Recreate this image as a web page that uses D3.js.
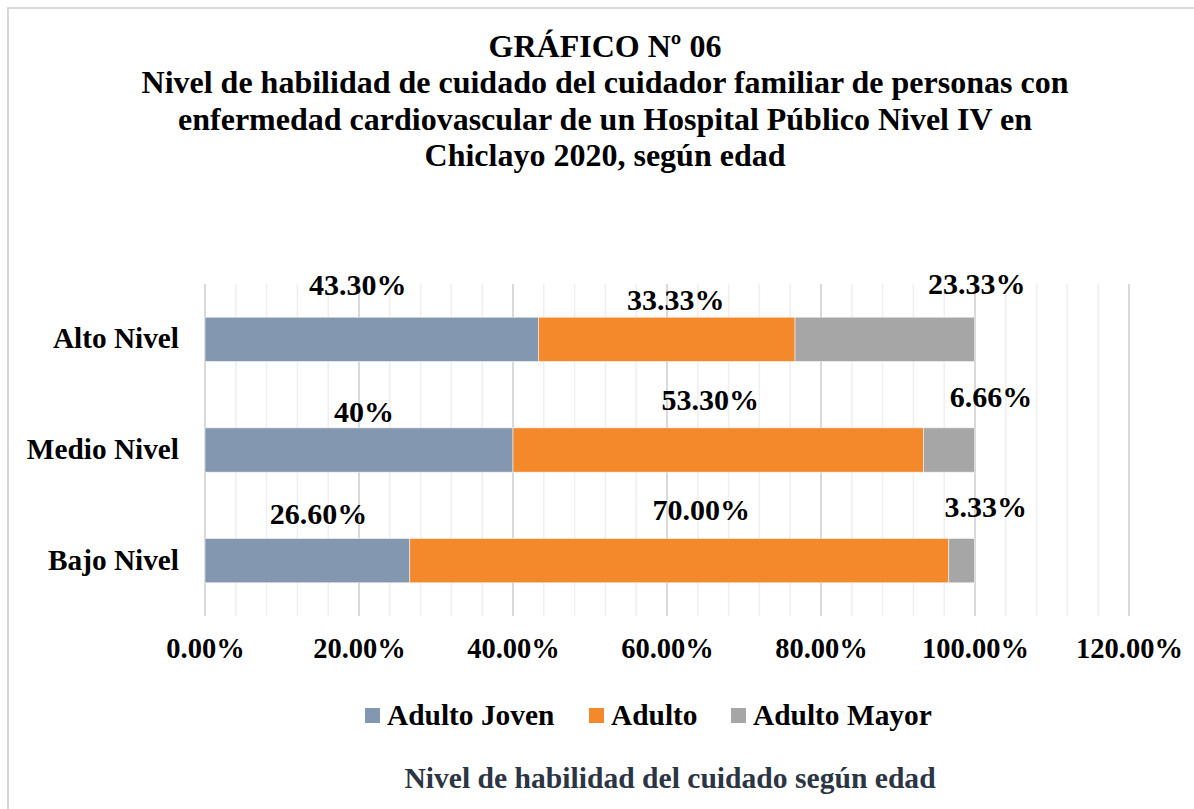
<!DOCTYPE html>
<html>
<head>
<meta charset="utf-8">
<script src="https://cdn.jsdelivr.net/npm/d3@7"></script>
<style>
  html, body { margin: 0; padding: 0; background: #fff; }
  text { font-family: "Liberation Serif", "Times New Roman", serif; font-weight: bold; }
</style>
</head>
<body>
<svg id="chart" width="1194" height="809"></svg>
<script>
// chart data
const categories = ["Alto Nivel", "Medio Nivel", "Bajo Nivel"];
const seriesNames = ["Adulto Joven", "Adulto", "Adulto Mayor"];
const adultoJoven = [43.30, 40, 26.60];
const adulto = [33.33, 53.30, 70.00];
const adultoMayor = [23.33, 6.66, 3.33];
const valueLabels = [
  ["43.30%", "33.33%", "23.33%"],
  ["40%", "53.30%", "6.66%"],
  ["26.60%", "70.00%", "3.33%"]
];
const xTicks = [0, 0.2, 0.4, 0.6, 0.8, 1.0, 1.2];
const titleLines = [
  "GRÁFICO Nº 06",
  "Nivel de habilidad de cuidado del cuidador familiar de personas con",
  "enfermedad cardiovascular de un Hospital Público Nivel IV en",
  "Chiclayo 2020, según edad"
];
const axisTitle = "Nivel de habilidad del cuidado según edad";

// manual label offsets (px) from segment centre / bar top, as placed in the original
const labelNudge = [
  [[-14, -22], [9, -7], [92, -23]],
  [[5, -6], [-8, -18], [42, -21]],
  [[11, -15], [22, -19], [24, -22]]
];

const colors = ["#8497b0", "#f4892c", "#a6a6a6"];

const svg = d3.select("#chart");

// outer frame (right/bottom edges fall outside the picture)
svg.append("rect")
  .attr("x", 8).attr("y", 8)
  .attr("width", 1200).attr("height", 820)
  .attr("fill", "#fff")
  .attr("stroke", "#d9d9d9")
  .attr("stroke-width", 2);

// title
svg.append("g")
  .selectAll("text")
  .data(titleLines)
  .join("text")
  .attr("x", 605)
  .attr("y", (d, i) => 57 + i * 36.3)
  .attr("text-anchor", "middle")
  .attr("font-size", 32)
  .attr("fill", "#000")
  .text(d => d);

const plotTop = 284, plotBottom = 616;

const x = d3.scaleLinear().domain([0, 1.2]).range([205, 1129]);
const y = d3.scaleBand()
  .domain(categories)
  .range([plotTop, plotBottom])
  .paddingInner(0.6)
  .paddingOuter(0.3);

// gridlines: minor every 4%, major every 20%
const minor = d3.range(0, 1.2001, 0.04);
svg.append("g")
  .selectAll("line")
  .data(minor)
  .join("line")
  .attr("x1", d => x(d)).attr("x2", d => x(d))
  .attr("y1", plotTop).attr("y2", plotBottom)
  .attr("stroke", "#efefef")
  .attr("stroke-width", 1.5);

svg.append("g")
  .selectAll("line")
  .data(xTicks)
  .join("line")
  .attr("x1", d => x(d)).attr("x2", d => x(d))
  .attr("y1", plotTop).attr("y2", plotBottom)
  .attr("stroke", "#d9d9d9")
  .attr("stroke-width", 2);

// stacked data
const rows = categories.map((c, i) => ({
  cat: c,
  "Adulto Joven": adultoJoven[i] / 100,
  "Adulto": adulto[i] / 100,
  "Adulto Mayor": adultoMayor[i] / 100
}));
const stacked = d3.stack().keys(seriesNames)(rows);

const layers = svg.append("g")
  .selectAll("g")
  .data(stacked)
  .join("g")
  .attr("fill", (d, i) => colors[i]);

layers.selectAll("rect")
  .data(d => d)
  .join("rect")
  .attr("x", d => x(d[0]))
  .attr("y", d => y(d.data.cat))
  .attr("width", d => x(d[1]) - x(d[0]))
  .attr("height", y.bandwidth())
  .attr("stroke", "#f3f3f3")
  .attr("stroke-width", 0.6);

// value labels
stacked.forEach((layer, si) => {
  svg.append("g")
    .selectAll("text")
    .data(layer)
    .join("text")
    .attr("x", (d, ci) => (x(d[0]) + x(d[1])) / 2 + labelNudge[ci][si][0])
    .attr("y", (d, ci) => y(d.data.cat) + labelNudge[ci][si][1])
    .attr("text-anchor", "middle")
    .attr("font-size", 30)
    .attr("fill", "#000")
    .text((d, ci) => valueLabels[ci][si]);
});

// x axis labels
const xAxis = svg.append("g")
  .attr("transform", `translate(0,${plotBottom})`)
  .call(d3.axisBottom(x).tickValues(xTicks).tickSize(0).tickPadding(0)
    .tickFormat(d => (d * 100).toFixed(2) + "%"));
xAxis.select(".domain").remove();
xAxis.selectAll("text")
  .attr("y", 42)
  .attr("dy", null)
  .attr("font-size", 28.5)
  .attr("font-family", null)
  .attr("fill", "#000");

// y axis labels
const yAxis = svg.append("g")
  .attr("transform", "translate(179,0)")
  .call(d3.axisLeft(y).tickSize(0).tickPadding(0));
yAxis.select(".domain").remove();
yAxis.selectAll("text")
  .attr("dy", "0.31em")
  .attr("font-size", 29.3)
  .attr("font-family", null)
  .attr("fill", "#000");

// legend
const legendX = [365, 589, 731];
const legend = svg.append("g")
  .selectAll("g")
  .data(seriesNames)
  .join("g")
  .attr("transform", (d, i) => `translate(${legendX[i]},708)`);
legend.append("rect")
  .attr("width", 15).attr("height", 15)
  .attr("fill", (d, i) => colors[i]);
legend.append("text")
  .attr("x", 22)
  .attr("y", 17)
  .attr("font-size", 29.4)
  .attr("fill", "#000")
  .text(d => d);

// bottom axis title
svg.append("text")
  .attr("x", 670)
  .attr("y", 788)
  .attr("text-anchor", "middle")
  .attr("font-size", 29.6)
  .attr("fill", "#2b3544")
  .text(axisTitle);
</script>
</body>
</html>
